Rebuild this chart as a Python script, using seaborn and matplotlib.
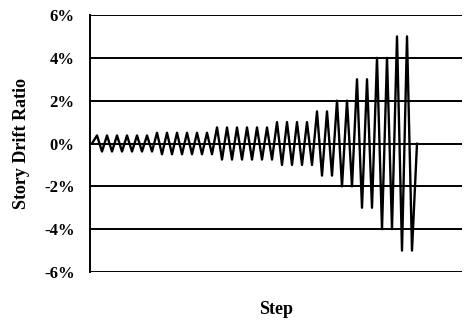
import matplotlib
matplotlib.use("Agg")
import matplotlib.pyplot as plt
import seaborn as sns
import pandas as pd
from matplotlib.ticker import FuncFormatter

# Loading protocol (story drift ratio, %) : amplitude and number of cycles
amplitudes = [0.375, 0.5, 0.75, 1.0, 1.5, 2.0, 3.0, 4.0, 5.0]
cycles = [6, 6, 6, 4, 2, 2, 2, 2, 2]
y_ticks = [-6, -4, -2, 0, 2, 4, 6]

# build the step history: 0, +a, -a, +a, -a, ..., 0
drift = [0.0]
for a, n in zip(amplitudes, cycles):
    for _ in range(n):
        drift.append(a)
        drift.append(-a)
drift.append(0.0)
df = pd.DataFrame({"Step": range(len(drift)), "Drift": drift})

sns.set_theme(style="white")
plt.rcParams["font.family"] = ["Liberation Serif", "DejaVu Serif"]

fig = plt.figure(figsize=(4.66, 3.2), dpi=100)
ax = fig.add_axes([90 / 466, 1 - 272 / 320, (462 - 90) / 466, (272 - 15) / 320])

for t in y_ticks:
    ax.axhline(t, color="black", lw=1.4, zorder=1)

sns.lineplot(data=df, x="Step", y="Drift", ax=ax, color="black", lw=1.7, zorder=3)

ax.set_xlim(-0.4, 74)
ax.set_ylim(-6, 6)
ax.set_yticks(y_ticks)
ax.yaxis.set_major_formatter(FuncFormatter(lambda v, p: f"{int(v)}%"))
ax.set_xticks([])
for s in ["top", "right", "bottom"]:
    ax.spines[s].set_visible(False)
ax.spines["left"].set_color("black")
ax.spines["left"].set_linewidth(1.4)
ax.tick_params(axis="y", direction="inout", length=12, width=1.4, color="black",
               pad=5, labelsize=12, labelcolor="black")
for lab in ax.get_yticklabels():
    lab.set_fontweight("bold")

ax.set_xlabel("Step", fontsize=13, fontweight="bold", color="black", labelpad=21)
ax.set_ylabel("Story Drift Ratio", fontsize=13, fontweight="bold", color="black", labelpad=10)

fig.savefig("out.png", dpi=100, facecolor="white")
